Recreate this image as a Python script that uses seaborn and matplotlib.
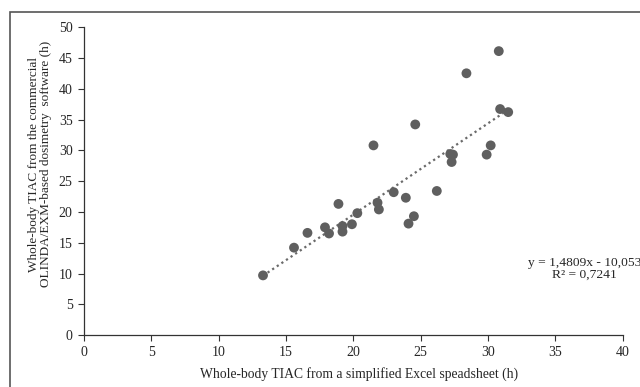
import numpy as np
import pandas as pd
import seaborn as sns
import matplotlib.pyplot as plt
from matplotlib.patches import Rectangle

# TIAC values (h)
excel_tiac = [13.3, 15.6, 16.6, 17.9, 18.2, 18.9, 19.2, 19.2, 19.9, 20.3,
              21.5, 21.8, 21.9, 23.0, 23.9, 24.1, 24.5, 24.6, 26.2, 27.2,
              27.4, 27.3, 28.4, 29.9, 30.2, 30.8, 30.9, 31.5]
olinda_tiac = [9.7, 14.2, 16.6, 17.5, 16.5, 21.3, 17.7, 16.8, 18.0, 19.8,
               30.8, 21.5, 20.4, 23.2, 22.3, 18.1, 19.3, 34.2, 23.4, 29.4,
               29.3, 28.1, 42.5, 29.3, 30.8, 46.1, 36.7, 36.2]
slope = 1.4809
intercept = -10.053
r2 = 0.7241

data = pd.DataFrame({'excel': excel_tiac, 'olinda': olinda_tiac})

sns.set_style("white")
plt.rcParams['font.family'] = ['Liberation Serif', 'DejaVu Serif']

fig = plt.figure(figsize=(6.4, 3.87), dpi=100)
ax = fig.add_axes([0.131, 0.134, 0.842, 0.796])

# outer frame like in the source figure
fig.patches.append(Rectangle((10 / 640, -0.1), 1.2, 1 - 12 / 387 + 0.1,
                             transform=fig.transFigure, fill=False,
                             edgecolor='#555555', linewidth=1.2))

sns.scatterplot(data=data, x='excel', y='olinda', ax=ax, color='#5f5f5f',
                s=50, edgecolor='none', zorder=3)

# trend line from the reported equation
xs = np.array([min(excel_tiac), max(excel_tiac)])
ax.plot(xs, slope * xs + intercept, linestyle=(0, (1, 1.5)), color='#6a6a6a',
        linewidth=1.6, zorder=2)

ax.text(37.15, 10.8, 'y = 1,4809x - 10,053\nR² = 0,7241', ha='center', va='center',
        fontsize=9.7, linespacing=1.0)

ax.set_xlim(0, 40)
ax.set_ylim(0, 50)
ax.set_xticks(range(0, 41, 5))
ax.set_yticks(range(0, 51, 5))
ax.tick_params(axis='both', labelsize=10, direction='out', length=4, width=0.8,
               color='#333333', bottom=True, left=True, pad=4)
ax.set_xlabel('Whole-body TIAC from a simplified Excel speadsheet (h)', fontsize=9.8)
ax.set_ylabel('Whole-body TIAC from the commercial\nOLINDA/EXM-based dosimetry  software (h)',
              fontsize=9.5, linespacing=0.9)
ax.xaxis.set_label_coords(0.51, -0.104)
ax.yaxis.set_label_coords(-0.06, 0.555)
sns.despine(ax=ax)
for sp in ['left', 'bottom']:
    ax.spines[sp].set_color('#333333')
    ax.spines[sp].set_linewidth(0.9)

fig.savefig('out.png', dpi=100)
